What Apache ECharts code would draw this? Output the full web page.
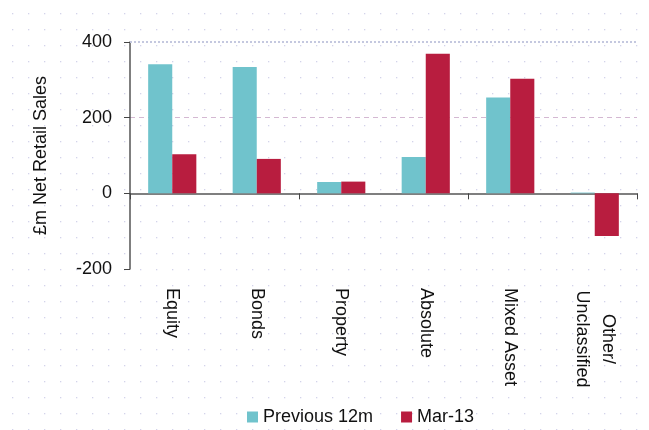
<!DOCTYPE html>
<html>
<head>
<meta charset="utf-8">
<script src="https://cdn.jsdelivr.net/npm/echarts@6/dist/echarts.min.js"></script>
<style>
  html, body { margin: 0; padding: 0; background: #fff; }
  #chart { width: 649px; height: 430px; }
</style>
</head>
<body>
<div id="chart"></div>
<script>
// Net retail sales by asset class, £m
const categories = ['Equity', 'Bonds', 'Property', 'Absolute', 'Mixed Asset', 'Other/\nUnclassified'];
const previous12m = [341, 334, 30, 96, 253, 2];
const mar13 = [103, 91, 31, 369, 303, -113];
const seriesNames = ['Previous 12m', 'Mar-13'];
const yTicks = { min: -200, max: 400, interval: 200 };

// faint dotted paper texture behind the chart
function dotPattern() {
  const c = document.createElement('canvas');
  c.width = 16; c.height = 16;
  const g = c.getContext('2d');
  g.fillStyle = '#ffffff';
  g.fillRect(0, 0, 16, 16);
  g.fillStyle = '#d3d3ea';
  g.fillRect(12, 13, 1.3, 1.3);
  return c;
}

const font = 'Liberation Sans, Arial, sans-serif';
const chart = echarts.init(document.getElementById('chart'), null, { renderer: 'canvas' });

// multi-line category names are centred line by line
function categoryLabel(value) {
  if (value.indexOf('\n') < 0) return value;
  return value.split('\n').map(function (s) { return '{c|' + s + '}'; }).join('\n');
}

chart.setOption({
  backgroundColor: { image: dotPattern(), repeat: 'repeat' },
  animation: false,
  grid: { left: 130, right: 12, top: 42, bottom: 161 },
  legend: {
    data: seriesNames,
    left: 242,
    top: 403,
    itemWidth: 11,
    itemHeight: 11,
    itemGap: 28,
    icon: 'rect',
    textStyle: { fontFamily: font, fontSize: 18, color: '#111' }
  },
  xAxis: [
    {
      type: 'category',
      data: categories,
      axisLine: { onZero: true, lineStyle: { color: '#555', width: 1.5 } },
      axisTick: { show: true, length: 6, lineStyle: { color: '#444' } },
      axisLabel: { show: false }
    },
    {
      type: 'category',
      data: categories,
      position: 'bottom',
      axisLine: { show: false, onZero: false },
      axisTick: { show: false },
      axisLabel: {
        rotate: -90,
        margin: 19,
        interval: 0,
        fontFamily: font,
        fontSize: 18,
        lineHeight: 26,
        color: '#111',
        formatter: categoryLabel,
        rich: {
          c: { width: 102, align: 'center', fontFamily: font, fontSize: 18, lineHeight: 26, color: '#111' }
        }
      }
    }
  ],
  yAxis: {
    type: 'value',
    min: yTicks.min,
    max: yTicks.max,
    interval: yTicks.interval,
    name: '£m Net Retail Sales',
    nameLocation: 'middle',
    nameRotate: 90,
    nameGap: 80,
    nameTextStyle: { fontFamily: font, fontSize: 18, color: '#111' },
    axisLine: { show: true, lineStyle: { color: '#555', width: 1.5 } },
    axisTick: { show: true, inside: false, length: 6, lineStyle: { color: '#444' } },
    axisLabel: { margin: 18, fontFamily: font, fontSize: 18, color: '#111' },
    splitLine: {
      show: true,
      lineStyle: { type: [5, 4], width: 1, color: ['rgba(0,0,0,0)', 'rgba(0,0,0,0)', '#d4b8d2', 'rgba(0,0,0,0)'] }
    }
  },
  series: [
    {
      name: seriesNames[0],
      type: 'bar',
      data: previous12m,
      barGap: '0%',
      barCategoryGap: '43%',
      itemStyle: { color: '#70c3cc' },
      markLine: {
        silent: true,
        symbol: 'none',
        label: { show: false },
        lineStyle: { type: [2, 2], width: 2, color: '#c4c8df' },
        data: [{ yAxis: yTicks.max }]
      }
    },
    {
      name: seriesNames[1],
      type: 'bar',
      data: mar13,
      itemStyle: { color: '#b81d3f' }
    }
  ]
});
</script>
</body>
</html>
